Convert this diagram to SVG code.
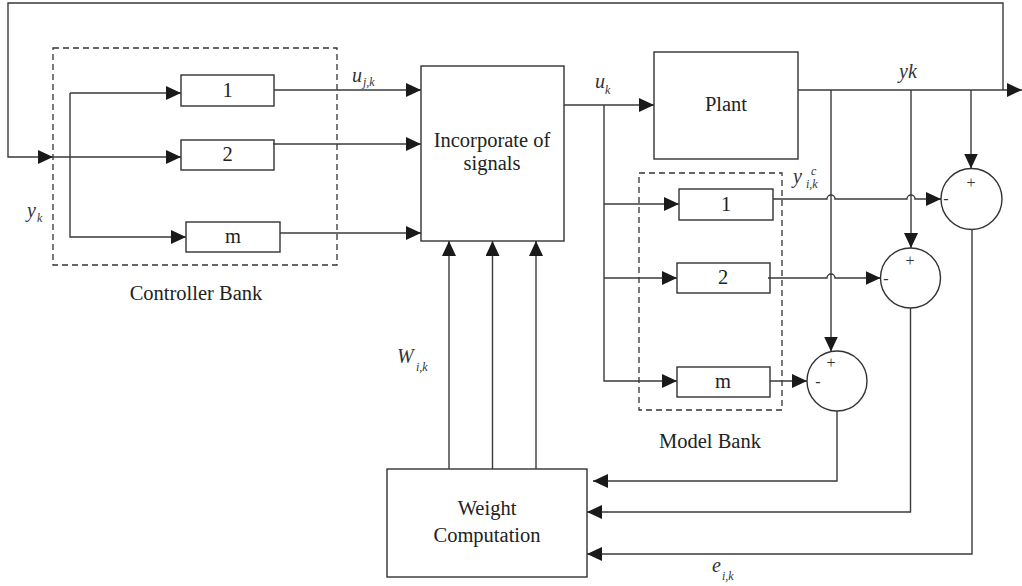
<svg xmlns="http://www.w3.org/2000/svg" width="1022" height="586" viewBox="0 0 1022 586">
<style>
.box{fill:#fff;stroke:#333;stroke-width:1.4}
.dash{fill:none;stroke:#333;stroke-width:1.3;stroke-dasharray:6 4}
.ln{fill:none;stroke:#3a3a3a;stroke-width:1.4}
.t{font-size:20.5px;fill:#222;text-anchor:middle}
.it{font-style:italic;font-size:20px;fill:#333}
.sub{font-style:italic;font-size:12px;fill:#333}
.sg{font-size:16px;fill:#333;text-anchor:middle}
</style>
<defs>
<marker id="ah" viewBox="0 0 15 14" refX="15" refY="7" markerWidth="15" markerHeight="14" markerUnits="userSpaceOnUse" orient="auto">
<path d="M0,0 L15,7 L0,14 Z" fill="#1a1a1a"/>
</marker>
</defs>
<rect width="1022" height="586" fill="#fff"/>
<g font-family="'Liberation Serif', 'Times New Roman', 'DejaVu Serif', serif">

<g id="controller-bank">
<rect class="dash" x="53" y="48" width="284" height="217"/>
<text class="t" x="196" y="300">Controller Bank</text>
</g>
<g id="ctrl-1"><rect class="box" x="181" y="75" width="93" height="31"/><text class="t" x="227.5" y="97">1</text></g>
<g id="ctrl-2"><rect class="box" x="181" y="140" width="93" height="30"/><text class="t" x="227.5" y="161">2</text></g>
<g id="ctrl-m"><rect class="box" x="186" y="222" width="94" height="30"/><text class="t" x="233" y="243">m</text></g>

<g id="incorporate"><rect class="box" x="421" y="66" width="143" height="175"/>
<text class="t" x="492" y="147">Incorporate of</text>
<text class="t" x="492" y="170">signals</text></g>

<g id="plant"><rect class="box" x="654" y="52" width="144" height="107"/><text class="t" x="726" y="111">Plant</text></g>

<g id="model-bank">
<rect class="dash" x="639" y="173" width="143" height="237"/>
<text class="t" x="710" y="448">Model Bank</text>
</g>
<g id="model-1"><rect class="box" x="679" y="189" width="94" height="31"/><text class="t" x="726" y="211">1</text></g>
<g id="model-2"><rect class="box" x="677" y="263" width="93" height="30"/><text class="t" x="723" y="284">2</text></g>
<g id="model-m"><rect class="box" x="677" y="367" width="93" height="30"/><text class="t" x="723" y="388">m</text></g>

<g id="sum-1"><circle class="box" cx="971.5" cy="199" r="30.5"/><text class="sg" x="971" y="188">+</text><text class="sg" x="946" y="204">-</text></g>
<g id="sum-2"><circle class="box" cx="910.5" cy="278" r="30"/><text class="sg" x="910" y="266">+</text><text class="sg" x="886" y="284">-</text></g>
<g id="sum-m"><circle class="box" cx="837" cy="381" r="30"/><text class="sg" x="831" y="368">+</text><text class="sg" x="818" y="387">-</text></g>

<g id="weight"><rect class="box" x="387" y="469" width="200" height="108"/>
<text class="t" x="487" y="515">Weight</text>
<text class="t" x="487" y="542">Computation</text></g>

<g id="connectors">
<path class="ln" d="M1003,90 V3 H8 V157 H53" marker-end="url(#ah)"/>
<path class="ln" d="M53,157 H181" marker-end="url(#ah)"/>
<path class="ln" d="M70,93 V237 H186" marker-end="url(#ah)"/>
<path class="ln" d="M70,93 H181" marker-end="url(#ah)"/>
<path class="ln" d="M274,90 H421" marker-end="url(#ah)"/>
<path class="ln" d="M273,144 H421" marker-end="url(#ah)"/>
<path class="ln" d="M280,233 H421" marker-end="url(#ah)"/>
<path class="ln" d="M564,105 H654" marker-end="url(#ah)"/>
<path class="ln" d="M604,105 V381 H677" marker-end="url(#ah)"/>
<path class="ln" d="M604,204 H679" marker-end="url(#ah)"/>
<path class="ln" d="M604,278 H677" marker-end="url(#ah)"/>
<path class="ln" d="M798,90 H1022" marker-end="url(#ah)"/>
<path class="ln" d="M971,90 V168.5" marker-end="url(#ah)"/>
<path class="ln" d="M911,90 V248" marker-end="url(#ah)"/>
<path class="ln" d="M831,90 V351.5" marker-end="url(#ah)"/>
<path class="ln" d="M773,199 H827 A4,4 0 0 1 835,199 H907 A4,4 0 0 1 915,199 H941" marker-end="url(#ah)"/>
<path class="ln" d="M768,278 H827 A4,4 0 0 1 835,278 H880.5" marker-end="url(#ah)"/>
<path class="ln" d="M770,381 H807" marker-end="url(#ah)"/>
<path class="ln" d="M837,411 V481 H593" marker-end="url(#ah)"/>
<path class="ln" d="M910.5,308 V512 H587" marker-end="url(#ah)"/>
<path class="ln" d="M972,229.5 V554 H587" marker-end="url(#ah)"/>
<path class="ln" d="M449,469 V241" marker-end="url(#ah)"/>
<path class="ln" d="M492.5,469 V241" marker-end="url(#ah)"/>
<path class="ln" d="M536,469 V241" marker-end="url(#ah)"/>
</g>

<g id="labels">
<text class="it" x="352" y="82">u</text><text class="sub" x="363" y="86">j,k</text>
<text class="it" x="595" y="88">u</text><text class="sub" x="605" y="94">k</text>
<text class="it" x="899" y="78">yk</text>
<text class="it" x="27" y="217">y</text><text class="sub" x="37" y="222">k</text>
<text class="it" x="793" y="183">y</text><text class="sub" x="811" y="175">c</text><text class="sub" x="806" y="188">i,k</text>
<text class="it" x="397" y="363">W</text><text class="sub" x="416" y="371">i,k</text>
<text class="it" x="712" y="572">e</text><text class="sub" x="722" y="580">i,k</text>
</g>
</g>
</svg>
